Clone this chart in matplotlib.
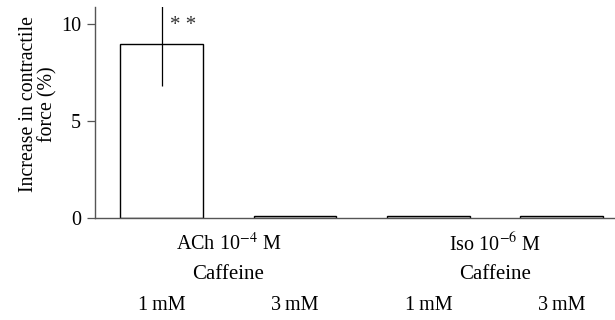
import matplotlib
matplotlib.use("Agg")
import matplotlib.pyplot as plt
import matplotlib.transforms as mtransforms

plt.rcParams["font.family"] = ["Liberation Serif", "DejaVu Serif"]
plt.rcParams["mathtext.fontset"] = "stix"

# Data
groups = ["ACh 10$^{-4}$ M", "Iso 10$^{-6}$ M"]
doses = ["1\u2009mM", "3\u2009mM", "1\u2009mM", "3\u2009mM"]
values = [9.0, 0.12, 0.12, 0.12]
errors = [2.2, 0, 0, 0]
yticks = [0, 5, 10]

fig = plt.figure(figsize=(6.15, 3.2), dpi=100)
ax = fig.add_axes([0.1545, 0.319, 0.8455, 0.659])

x = list(range(len(values)))
ax.bar(x, values, width=0.62, color="white", edgecolor="black", linewidth=1.0, zorder=2)
ax.errorbar(x[0], values[0], yerr=errors[0], fmt="none", ecolor="black",
            elinewidth=0.9, capsize=0, zorder=3)
ax.text(0.06, 9.95, "* *", fontsize=15, ha="left", va="center", color="#333333")

ax.set_xlim(-0.5, 3.4)
ax.set_ylim(0, 10.9)
ax.set_yticks(yticks)
ax.set_xticks([])
ax.tick_params(axis="y", direction="out", length=6, width=0.9, color="#555555",
               labelsize=14.5, pad=4)
for side in ["top", "right"]:
    ax.spines[side].set_visible(False)
for side in ["left", "bottom"]:
    ax.spines[side].set_color("#555555")
    ax.spines[side].set_linewidth(1.0)

ax.set_ylabel("Increase in contractile\nforce (%)", fontsize=14.3, linespacing=1.0)
ax.yaxis.set_label_coords(-0.072, 0.54)

trans = mtransforms.blended_transform_factory(ax.transData, ax.transAxes)
for i, g in enumerate(groups):
    cx = (x[2 * i] + x[2 * i + 1]) / 2
    ax.text(cx, -0.125, g, transform=trans, ha="center", va="center", fontsize=14.5)
    ax.text(cx, -0.27, "Caffeine", transform=trans, ha="center", va="center", fontsize=15)
for i, d in enumerate(doses):
    ax.text(x[i], -0.415, d, transform=trans, ha="center", va="center", fontsize=14.5)

fig.savefig("out.png", dpi=100)
